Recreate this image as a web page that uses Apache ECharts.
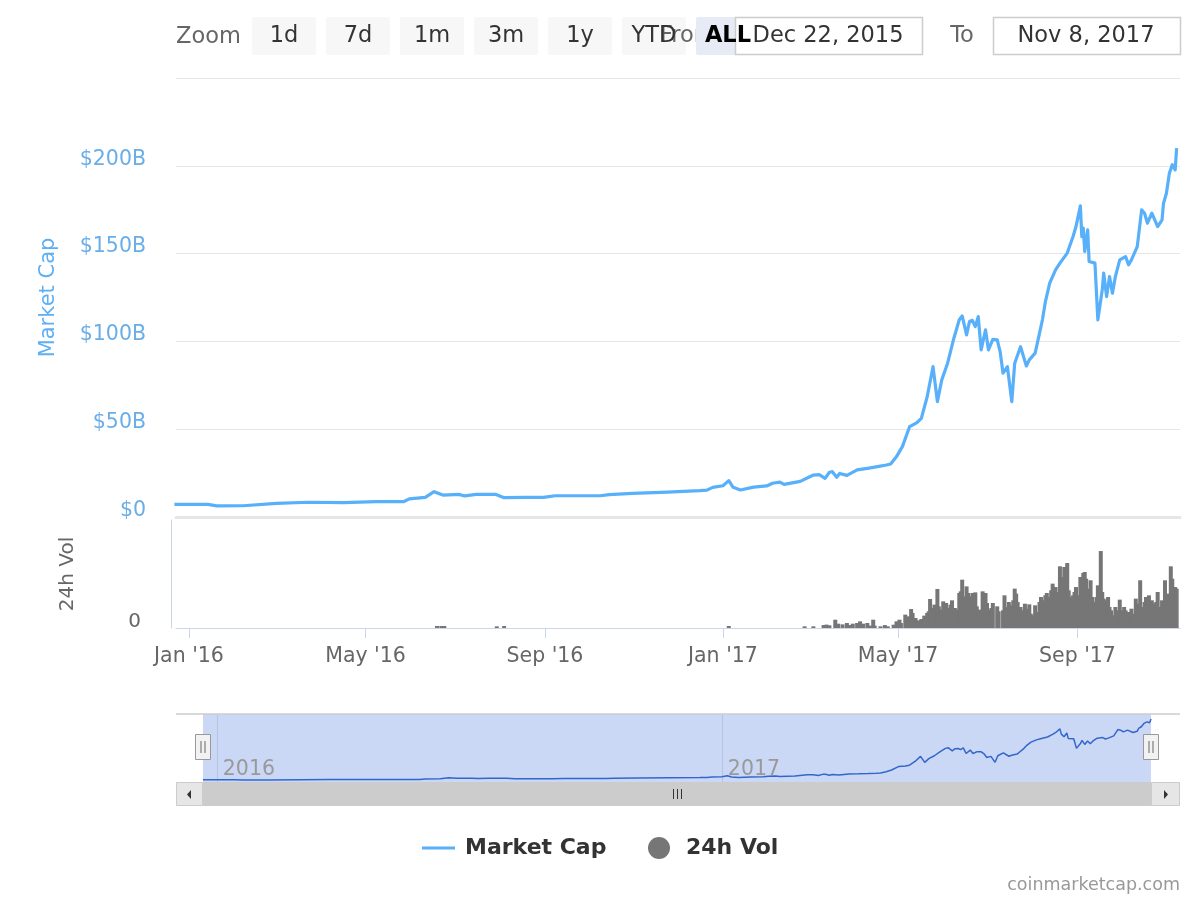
<!DOCTYPE html>
<html><head><meta charset="utf-8">
<script src="https://cdn.jsdelivr.net/npm/echarts@6/dist/echarts.min.js"></script>
<style>html,body{margin:0;padding:0;background:#fff}#c{width:1200px;height:900px}</style>
</head><body><div id="c"></div>
<script>
// ---------- data ----------
const capDates = ['2015-12-22','2016-01-14','2016-01-20','2016-02-07','2016-03-01','2016-03-23','2016-04-16','2016-05-08','2016-05-27','2016-05-31','2016-06-11','2016-06-17','2016-06-23','2016-07-04','2016-07-08','2016-07-16','2016-07-29','2016-08-04','2016-08-19','2016-08-31','2016-09-08','2016-09-22','2016-10-09','2016-10-15','2016-10-31','2016-11-24','2016-12-16','2016-12-21','2016-12-25','2017-01-01','2017-01-05','2017-01-08','2017-01-13','2017-01-22','2017-01-31','2017-02-04','2017-02-09','2017-02-12','2017-02-23','2017-03-04','2017-03-08','2017-03-12','2017-03-15','2017-03-17','2017-03-20','2017-03-22','2017-03-27','2017-04-03','2017-04-10','2017-04-17','2017-04-23','2017-04-26','2017-04-30','2017-05-04','2017-05-09','2017-05-14','2017-05-17','2017-05-21','2017-05-25','2017-05-28','2017-05-31','2017-06-04','2017-06-08','2017-06-12','2017-06-14','2017-06-17','2017-06-19','2017-06-21','2017-06-23','2017-06-25','2017-06-27','2017-06-30','2017-07-02','2017-07-05','2017-07-08','2017-07-10','2017-07-12','2017-07-15','2017-07-18','2017-07-20','2017-07-24','2017-07-28','2017-07-30','2017-08-03','2017-08-05','2017-08-08','2017-08-10','2017-08-13','2017-08-17','2017-08-20','2017-08-25','2017-08-29','2017-08-31','2017-09-03','2017-09-04','2017-09-05','2017-09-06','2017-09-08','2017-09-09','2017-09-13','2017-09-15','2017-09-18','2017-09-19','2017-09-21','2017-09-23','2017-09-25','2017-09-27','2017-09-30','2017-10-04','2017-10-06','2017-10-08','2017-10-12','2017-10-15','2017-10-17','2017-10-19','2017-10-22','2017-10-26','2017-10-29','2017-10-30','2017-11-01','2017-11-03','2017-11-05','2017-11-07','2017-11-08'];
const capValues = [7.2,7.2,6.3,6.4,7.8,8.4,8.2,8.7,8.7,10.3,11.2,14.4,12.5,12.9,12.0,12.9,12.9,11.0,11.2,11.2,12.1,12.1,12.1,12.7,13.5,14.2,15.0,15.3,16.9,17.8,20.7,16.9,15.4,17.0,17.7,19.2,19.9,18.6,20.3,23.9,24.1,22.0,25.5,25.8,22.6,24.8,23.7,26.8,27.7,28.7,29.6,30.2,34.4,40.1,51.5,53.7,56.2,68.5,85.6,65.7,78.1,87.6,100.9,112.3,114.5,103.7,111.3,112.0,108.4,114.1,95.2,106.6,95.2,101.2,100.9,94.2,81.9,85.6,65.7,87.6,97.0,86.0,89.5,93.3,100.9,112.3,122.5,133.2,140.7,144.6,150.3,159.7,165.4,177.2,159.7,164.5,151.2,163.5,145.5,144.6,112.3,129.3,138.9,125.5,136.9,127.5,136.9,146.4,148.3,143.6,146.4,154.0,174.9,173.0,167.3,173.0,165.4,169.2,178.7,184.4,195.8,200.6,197.7,210.1];

const volDates = ['2016-06-19','2016-06-22','2016-06-24','2016-07-30','2016-08-04','2017-01-05','2017-02-26','2017-03-04','2017-03-11','2017-03-13','2017-03-15','2017-03-19','2017-03-21','2017-03-24','2017-03-27','2017-03-29','2017-03-31','2017-04-03','2017-04-05','2017-04-07','2017-04-10','2017-04-12','2017-04-14','2017-04-15','2017-04-19','2017-04-22','2017-04-24','2017-04-28','2017-04-30','2017-05-02','2017-05-03','2017-05-06','2017-05-08','2017-05-10','2017-05-11','2017-05-13','2017-05-15','2017-05-17','2017-05-19','2017-05-21','2017-05-22','2017-05-23','2017-05-25','2017-05-26','2017-05-28','2017-05-29','2017-05-31','2017-06-01','2017-06-03','2017-06-05','2017-06-06','2017-06-07','2017-06-09','2017-06-10','2017-06-12','2017-06-13','2017-06-14','2017-06-16','2017-06-17','2017-06-18','2017-06-19','2017-06-21','2017-06-23','2017-06-24','2017-06-26','2017-06-28','2017-06-30','2017-07-01','2017-07-02','2017-07-04','2017-07-05','2017-07-08','2017-07-09','2017-07-12','2017-07-13','2017-07-14','2017-07-16','2017-07-17','2017-07-19','2017-07-20','2017-07-21','2017-07-22','2017-07-24','2017-07-25','2017-07-27','2017-07-28','2017-07-30','2017-07-31','2017-08-02','2017-08-03','2017-08-04','2017-08-06','2017-08-07','2017-08-08','2017-08-10','2017-08-11','2017-08-13','2017-08-14','2017-08-15','2017-08-17','2017-08-18','2017-08-20','2017-08-21','2017-08-22','2017-08-23','2017-08-25','2017-08-26','2017-08-27','2017-08-29','2017-08-30','2017-08-31','2017-09-02','2017-09-03','2017-09-05','2017-09-06','2017-09-07','2017-09-08','2017-09-10','2017-09-11','2017-09-13','2017-09-14','2017-09-15','2017-09-16','2017-09-17','2017-09-18','2017-09-19','2017-09-20','2017-09-22','2017-09-23','2017-09-24','2017-09-25','2017-09-27','2017-09-28','2017-09-29','2017-09-30','2017-10-01','2017-10-03','2017-10-04','2017-10-06','2017-10-07','2017-10-08','2017-10-09','2017-10-11','2017-10-12','2017-10-13','2017-10-14','2017-10-16','2017-10-17','2017-10-18','2017-10-20','2017-10-21','2017-10-22','2017-10-23','2017-10-24','2017-10-25','2017-10-26','2017-10-28','2017-10-29','2017-10-31','2017-11-01','2017-11-02','2017-11-04','2017-11-05','2017-11-06','2017-11-07','2017-11-08'];
const volValues = [0.3,0.3,0.3,0.25,0.3,0.3,0.25,0.25,0.44,0.5,0.4,1.23,0.64,0.54,0.74,0.44,0.64,0.74,0.99,0.64,0.74,0.35,1.23,0.35,0.25,0.44,0.25,0.49,0.99,1.23,0.74,1.98,1.73,2.81,2.22,1.48,1.14,1.33,1.83,2.22,2.47,4.3,2.96,3.46,5.78,3.21,2.72,3.95,3.7,2.96,3.46,4.1,2.96,2.72,5.19,5.43,7.16,4.69,6.17,5.19,4.69,5.19,5.28,3.21,2.72,5.43,5.19,3.7,2.72,2.96,3.7,3.21,2.47,2.62,4.84,3.11,3.85,3.36,4.1,5.83,5.09,3.85,3.11,2.62,3.6,2.86,3.51,2.12,1.88,3.36,2.37,3.85,4.59,4.1,4.84,5.19,4.59,5.58,6.57,6.07,5.33,9.14,5.33,7.56,9.04,9.63,5.58,4.59,4.84,5.33,6.07,4.84,7.56,8.15,8.3,7.3,5.83,7.07,4.59,3.85,4.59,6.32,3.85,11.4,5.33,4.35,4.1,4.59,3.11,2.62,1.88,3.11,2.12,2.62,4.2,2.62,3.11,2.62,2.37,1.88,2.86,2.12,4.35,2.62,3.6,7.07,3.11,3.85,4.59,4.84,3.6,4.1,3.36,3.6,3.85,5.33,3.11,4.1,7.07,3.85,5.09,9.14,7.3,4.59,6.07,5.83];

const capTicks = [0, 50, 100, 150, 200, 250];
const xTickDates = ['2016-01-01','2016-05-01','2016-09-01','2017-01-01','2017-05-01','2017-09-01'];
const xTickLabels = ["Jan '16","May '16","Sep '16","Jan '17","May '17","Sep '17"];
const navTickDates = ['2016-01-01','2017-01-01'];
const navTickLabels = ['2016','2017'];
const zoomButtons = ['1d','7d','1m','3m','1y','YTD','ALL'];
const rangeFromText = 'Dec 22, 2015';
const rangeToText = 'Nov 8, 2017';

// ---------- helpers ----------
function ts(s){const p=s.split('-').map(Number);return Date.UTC(p[0],p[1]-1,p[2]);}
const DAY = 86400000;
const capData = capDates.map((d,i)=>[ts(d), capValues[i]]);
const volData = volDates.map((d,i)=>[ts(d), volValues[i]]);
const xTickTs = xTickDates.map(ts);
const navTickTs = navTickDates.map(ts);
const jan16 = ts('2016-01-01');
const mainMin = jan16 - 8.9*DAY, mainMax = jan16 + 679.3*DAY;
const navMin = ts(capDates[0]), navMax = ts(capDates[capDates.length-1]);

const FONT = 'DejaVu Sans';
const lineColor = '#58b0fb';
const labelBlue = '#6aaee8';
const selFont = 22.5;

// ---------- graphic decorations (range selector, navigator handles, scrollbar, credit) ----------
const graphics = [];
graphics.push({type:'text', z:5, style:{text:'Zoom', x:176, y:37, fontFamily:FONT, fontSize:selFont, fill:'#666', verticalAlign:'middle'}});
zoomButtons.forEach((b,i)=>{
  const x = 252 + i*74;
  const isAll = b==='ALL';
  graphics.push({type:'rect', z: isAll?3:1, shape:{x:x, y:17, width:64, height:38, r:2}, style:{fill: isAll?'#e6ebf5':'#f7f7f7'}});
  graphics.push({type:'text', z:6, style:{text:b, x:x+32, y:36, align:'center', verticalAlign:'middle', fontFamily:FONT, fontSize:selFont, fontWeight: isAll?'bold':'normal', fill: isAll?'#000':'#333'}});
});
graphics.push({type:'text', z:2, style:{text:'From', x:660, y:36, verticalAlign:'middle', fontFamily:FONT, fontSize:selFont, fill:'#666'}});
graphics.push({type:'rect', z:4, shape:{x:735.5, y:17.5, width:187, height:37}, style:{fill:'#fff', stroke:'#cccccc', lineWidth:1.5}});
graphics.push({type:'text', z:6, style:{text:rangeFromText, x:828, y:36, align:'center', verticalAlign:'middle', fontFamily:FONT, fontSize:selFont, fill:'#333'}});
graphics.push({type:'text', z:6, style:{text:'To', x:962, y:36, align:'center', verticalAlign:'middle', fontFamily:FONT, fontSize:selFont, fill:'#666'}});
graphics.push({type:'rect', z:4, shape:{x:993.5, y:17.5, width:187, height:37}, style:{fill:'#fff', stroke:'#cccccc', lineWidth:1.5}});
graphics.push({type:'text', z:6, style:{text:rangeToText, x:1086, y:36, align:'center', verticalAlign:'middle', fontFamily:FONT, fontSize:selFont, fill:'#333'}});

graphics.push({type:'line', z:10, shape:{x1:176, y1:714, x2:1180, y2:714}, style:{stroke:'#cccccc', lineWidth:1.5}});
graphics.push({type:'rect', z:10, shape:{x:176, y:782, width:1004, height:24}, style:{fill:'#f2f2f2'}});
graphics.push({type:'rect', z:11, shape:{x:203, y:782, width:948, height:24}, style:{fill:'#cccccc'}});
graphics.push({type:'rect', z:11, shape:{x:176.5, y:782.5, width:26, height:23}, style:{fill:'#e6e6e6', stroke:'#cccccc', lineWidth:1}});
graphics.push({type:'rect', z:11, shape:{x:1151.5, y:782.5, width:28, height:23}, style:{fill:'#e6e6e6', stroke:'#cccccc', lineWidth:1}});
graphics.push({type:'polygon', z:12, shape:{points:[[191,790],[191,799],[187,794.5]]}, style:{fill:'#333'}});
graphics.push({type:'polygon', z:12, shape:{points:[[1164,790],[1164,799],[1168,794.5]]}, style:{fill:'#333'}});
[673,677,681].forEach(x=>graphics.push({type:'line', z:12, shape:{x1:x+0.5, y1:789, x2:x+0.5, y2:799}, style:{stroke:'#333', lineWidth:1}}));
[203,1151].forEach(cx=>{
  graphics.push({type:'rect', z:12, shape:{x:cx-7.5, y:734.5, width:15, height:25}, style:{fill:'#f2f2f2', stroke:'#999', lineWidth:1}});
  graphics.push({type:'line', z:13, shape:{x1:cx-2, y1:741, x2:cx-2, y2:753}, style:{stroke:'#666', lineWidth:1}});
  graphics.push({type:'line', z:13, shape:{x1:cx+2, y1:741, x2:cx+2, y2:753}, style:{stroke:'#666', lineWidth:1}});
});
graphics.push({type:'text', z:5, style:{text:'coinmarketcap.com', x:1180, y:885, align:'right', verticalAlign:'middle', fontFamily:FONT, fontSize:17.5, fill:'#999'}});

const option = {
  animation: false,
  backgroundColor: '#fff',
  textStyle: {fontFamily: FONT},
  grid: [
    {left:176, top:78, width:1004, height:439},
    {left:176, top:520, width:1004, height:108},
    {left:203, top:714, width:948, height:68, show:true, backgroundColor:'#cbd8f5', borderWidth:0}
  ],
  xAxis: [
    {type:'value', gridIndex:0, min:mainMin, max:mainMax,
     axisLine:{show:true, onZero:false, lineStyle:{color:'#e6e6e6', width:3}}, axisTick:{show:false}, axisLabel:{show:false}, splitLine:{show:false}},
    {type:'value', gridIndex:1, min:mainMin, max:mainMax,
     axisLine:{show:true, onZero:false, lineStyle:{color:'#ccd6eb', width:1}},
     axisTick:{show:true, customValues:xTickTs, length:10, lineStyle:{color:'#ccd6eb'}},
     axisLabel:{show:true, customValues:xTickTs, margin:18, fontSize:20.5, color:'#666',
       formatter:(v)=>{const i=xTickTs.indexOf(v);return i>=0?xTickLabels[i]:'';}},
     splitLine:{show:false}},
    {type:'value', gridIndex:2, min:navMin, max:navMax,
     axisLine:{show:false, onZero:false},
     axisTick:{show:true, inside:true, customValues:navTickTs, length:68, lineStyle:{color:'#b5c4e3', width:1}},
     axisLabel:{show:true, inside:true, customValues:navTickTs, margin:2, fontSize:20.5, color:'#999', align:'left', padding:[0,0,0,6],
       formatter:(v)=>{const i=navTickTs.indexOf(v);return i>=0?navTickLabels[i]:'';}},
     splitLine:{show:false}}
  ],
  yAxis: [
    {type:'value', gridIndex:0, min:0, max:250, interval:50,
     name:'Market Cap', nameLocation:'middle', nameGap:117, nameRotate:90,
     nameTextStyle:{color:'#5eb0f5', fontSize:21, fontFamily:FONT},
     axisLine:{show:false}, axisTick:{show:false},
     axisLabel:{margin:30, fontSize:20.5, color:labelBlue, verticalAlign:'middle', lineHeight:13, showMaxLabel:false,
       formatter:(v)=> (v===0 ? '$0' : '$'+v+'B') + '\n'},
     splitLine:{lineStyle:{color:'#e6e6e6', width:1}}},
    {type:'value', gridIndex:1, min:0, max:16, interval:16, offset:5,
     name:'24h Vol', nameLocation:'middle', nameGap:93, nameRotate:90,
     nameTextStyle:{color:'#666', fontSize:20, fontFamily:FONT},
     axisLine:{show:true, lineStyle:{color:'#ccd6eb'}}, axisTick:{show:false},
     axisLabel:{margin:30, fontSize:20, color:'#666', verticalAlign:'middle', lineHeight:13, showMaxLabel:false,
       formatter:(v)=> v + '\n'},
     splitLine:{show:false}},
    {type:'value', gridIndex:2, min:0, max:227, show:false, splitLine:{show:false}}
  ],
  legend: [
    {data:[{name:'Market Cap', icon:'rect'}], left:422, top:837, padding:0, itemWidth:33, itemHeight:3, selectedMode:false,
     textStyle:{fontSize:22, fontWeight:'bold', color:'#333', fontFamily:FONT, padding:[0,0,0,5]}},
    {data:[{name:'24h Vol', icon:'circle'}], left:648, top:837, padding:0, itemWidth:22, itemHeight:22, selectedMode:false,
     textStyle:{fontSize:22, fontWeight:'bold', color:'#333', fontFamily:FONT, padding:[0,0,0,11]}}
  ],
  series: [
    {name:'Market Cap', type:'line', xAxisIndex:0, yAxisIndex:0, data:capData, showSymbol:false, symbol:'none',
     lineStyle:{color:lineColor, width:3.2, join:'round'}, itemStyle:{color:lineColor}, z:3},
    {name:'24h Vol', type:'bar', xAxisIndex:1, yAxisIndex:1, data:volData, barWidth:4,
     itemStyle:{color:'#767676'}},
    {name:'nav', type:'line', xAxisIndex:2, yAxisIndex:2, data:capData, showSymbol:false, symbol:'none',
     lineStyle:{color:'#3366cc', width:1.5}, itemStyle:{color:'#3366cc'}}
  ],
  graphic: graphics
};
const chart = echarts.init(document.getElementById('c'), null, {renderer:'canvas'});
chart.setOption(option);
</script></body></html>
